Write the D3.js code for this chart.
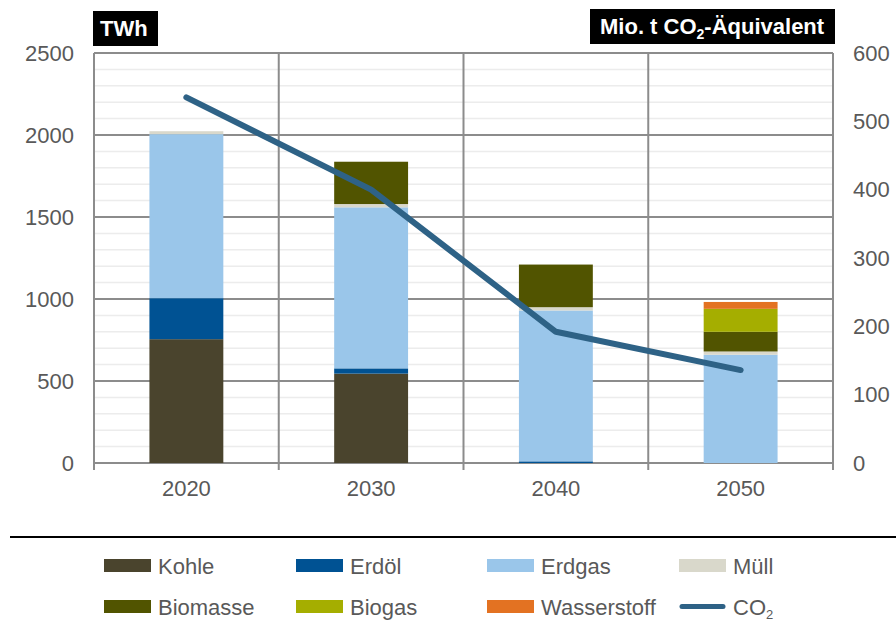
<!DOCTYPE html>
<html>
<head>
<meta charset="utf-8">
<script src="https://cdn.jsdelivr.net/npm/d3@7"></script>
<style>
  html, body { margin: 0; padding: 0; background: #fff; }
  svg { display: block; font-family: "Liberation Sans", Arial, sans-serif; }
</style>
</head>
<body>
<svg id="chart" width="896" height="622"></svg>
<script>
// Years on the x axis
const years = ["2020", "2030", "2040", "2050"];

// Energy carriers stacked per year (TWh), bottom to top
const carriers = ["Kohle", "Erdöl", "Erdgas", "Müll", "Biomasse", "Biogas", "Wasserstoff"];
const kohle       = [755,  545,   0,   0];
const erdoel      = [250,   32,  10,   0];
const erdgas      = [1000, 982, 920, 660];
const muell       = [18,    20,  20,  20];
const biomasse    = [0,    258, 260, 120];
const biogas      = [0,      0,   0, 140];
const wasserstoff = [0,      0,   0,  42];

// CO2 emissions (Mio. t CO2-equivalent), right axis
const co2 = [535, 400, 192, 136];

// Axis ticks
const leftTicks = [0, 500, 1000, 1500, 2000, 2500];
const rightTicks = [0, 100, 200, 300, 400, 500, 600];
const minorTicks = d3.range(0, 2501, 100);

const colors = {
  "Kohle": "#4a442d",
  "Erdöl": "#005293",
  "Erdgas": "#9ac6ea",
  "Müll": "#d9d8cb",
  "Biomasse": "#515400",
  "Biogas": "#a5ae00",
  "Wasserstoff": "#e37222"
};
const co2Color = "#2e6286";
const textColor = "#595959";

const seriesValues = {
  "Kohle": kohle, "Erdöl": erdoel, "Erdgas": erdgas, "Müll": muell,
  "Biomasse": biomasse, "Biogas": biogas, "Wasserstoff": wasserstoff
};
const table = years.map((y, i) => {
  const row = { year: y };
  carriers.forEach(c => row[c] = seriesValues[c][i]);
  return row;
});

const svg = d3.select("#chart");
const L = 94, R = 833, T = 53, B = 463;

const x = d3.scaleBand().domain(years).range([L, R]).paddingInner(0).paddingOuter(0);
const yL = d3.scaleLinear().domain([0, 2500]).range([B, T]);
const yR = d3.scaleLinear().domain([0, 600]).range([B, T]);

// minor gridlines
svg.append("g").selectAll("line").data(minorTicks.filter(v => v % 500 !== 0)).join("line")
  .attr("x1", L).attr("x2", R)
  .attr("y1", d => yL(d)).attr("y2", d => yL(d))
  .attr("stroke", "#ececec").attr("stroke-width", 1.5);

// major gridlines
svg.append("g").selectAll("line").data(leftTicks).join("line")
  .attr("x1", L).attr("x2", R)
  .attr("y1", d => yL(d)).attr("y2", d => yL(d))
  .attr("stroke", "#8c8c8c").attr("stroke-width", 2);

// vertical category separators, with tick marks below the axis
const seps = years.map(y => x(y)).concat([R]);
svg.append("g").selectAll("line").data(seps).join("line")
  .attr("x1", d => d).attr("x2", d => d)
  .attr("y1", T).attr("y2", B + 7)
  .attr("stroke", "#8c8c8c").attr("stroke-width", 2);

// stacked bars
const stack = d3.stack().keys(carriers)(table);
const barW = x.bandwidth() * 0.4;
svg.append("g").selectAll("g").data(stack).join("g")
  .attr("fill", d => colors[d.key])
  .selectAll("rect").data(d => d).join("rect")
  .attr("x", d => x(d.data.year) + (x.bandwidth() - barW) / 2)
  .attr("width", barW)
  .attr("y", d => yL(d[1]))
  .attr("height", d => yL(d[0]) - yL(d[1]));

// CO2 line
const line = d3.line()
  .x((d, i) => x(years[i]) + x.bandwidth() / 2)
  .y(d => yR(d));
svg.append("path").datum(co2)
  .attr("d", line)
  .attr("fill", "none")
  .attr("stroke", co2Color)
  .attr("stroke-width", 6)
  .attr("stroke-linecap", "round")
  .attr("stroke-linejoin", "round");

function styleAxis(g) {
  g.select(".domain").remove();
  g.selectAll("text").attr("font-size", 22).attr("fill", textColor)
    .attr("font-family", "Liberation Sans, Arial, sans-serif");
}

// left axis labels
svg.append("g").attr("transform", `translate(${L},0)`)
  .call(d3.axisLeft(yL).tickValues(leftTicks).tickFormat(d3.format("d")).tickSize(0).tickPadding(20))
  .call(styleAxis);

// right axis labels
svg.append("g").attr("transform", `translate(${R},0)`)
  .call(d3.axisRight(yR).tickValues(rightTicks).tickFormat(d3.format("d")).tickSize(0).tickPadding(20))
  .call(styleAxis);

// x axis labels
svg.append("g").attr("transform", `translate(0,${B})`)
  .call(d3.axisBottom(x).tickSize(0).tickPadding(17))
  .call(styleAxis);

// unit boxes
svg.append("rect").attr("x", 93).attr("y", 11).attr("width", 65).attr("height", 35).attr("fill", "#000");
svg.append("text").attr("x", 100).attr("y", 36).attr("fill", "#fff")
  .attr("font-size", 22).attr("font-weight", "bold").text("TWh");

svg.append("rect").attr("x", 590).attr("y", 9).attr("width", 245).attr("height", 35).attr("fill", "#000");
const unitR = svg.append("text").attr("x", 600).attr("y", 34).attr("fill", "#fff")
  .attr("font-size", 22).attr("font-weight", "bold");
unitR.append("tspan").text("Mio. t CO");
unitR.append("tspan").attr("font-size", 14).attr("dy", 5).text("2");
unitR.append("tspan").attr("dy", -5).text("-Äquivalent");

// separator above the legend
svg.append("line").attr("x1", 10).attr("x2", 896).attr("y1", 537).attr("y2", 537)
  .attr("stroke", "#000").attr("stroke-width", 2);

// legend
const legendItems = [
  { name: "Kohle", type: "rect" }, { name: "Erdöl", type: "rect" },
  { name: "Erdgas", type: "rect" }, { name: "Müll", type: "rect" },
  { name: "Biomasse", type: "rect" }, { name: "Biogas", type: "rect" },
  { name: "Wasserstoff", type: "rect" }, { name: "CO2", type: "line" }
];
const colX = [104, 296, 487, 679];
const rowY = [565.5, 606.5];
const lg = svg.append("g");
legendItems.forEach((it, i) => {
  const cx = colX[i % 4], cy = rowY[Math.floor(i / 4)];
  if (it.type === "rect") {
    lg.append("rect").attr("x", cx).attr("y", cy - 6.5).attr("width", 47).attr("height", 13)
      .attr("fill", colors[it.name]);
  } else {
    lg.append("line").attr("x1", cx + 3).attr("x2", cx + 44).attr("y1", cy).attr("y2", cy)
      .attr("stroke", co2Color).attr("stroke-width", 5).attr("stroke-linecap", "round");
  }
  const t = lg.append("text").attr("x", cx + 54).attr("y", cy + 8)
    .attr("font-size", 22).attr("fill", textColor);
  if (it.name === "CO2") {
    t.append("tspan").text("CO");
    t.append("tspan").attr("font-size", 13).attr("dy", 4).text("2");
  } else {
    t.text(it.name);
  }
});
</script>
</body>
</html>
